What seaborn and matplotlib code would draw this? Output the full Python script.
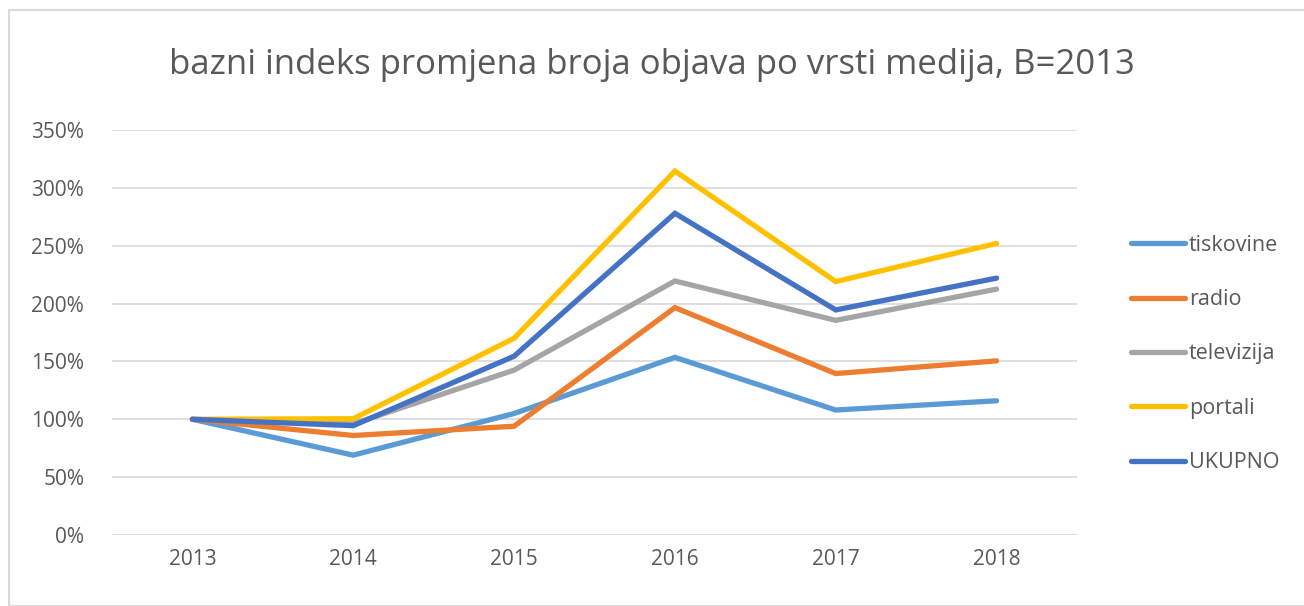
import matplotlib
matplotlib.use("Agg")
import matplotlib.pyplot as plt
import seaborn as sns
import pandas as pd
from matplotlib.patches import Rectangle
from matplotlib.ticker import FuncFormatter

years = ["2013", "2014", "2015", "2016", "2017", "2018"]
tiskovine = [100, 69, 105, 153.5, 108, 116]
radio = [100, 86, 94, 196.5, 139.5, 150.5]
televizija = [100, 96, 142.5, 219.5, 185.5, 212.5]
portali = [100, 100.5, 170, 314.5, 219, 252]
ukupno = [100, 94.5, 154.5, 278, 194.5, 222]

series_names = ["tiskovine", "radio", "televizija", "portali", "UKUPNO"]
series_values = [tiskovine, radio, televizija, portali, ukupno]
colors = ["#5B9BD5", "#ED7D31", "#A5A5A5", "#FFC000", "#4472C4"]
title = "bazni indeks promjena broja objava po vrsti medija, B=2013"

rows = []
for name, vals in zip(series_names, series_values):
    for i, (y, v) in enumerate(zip(years, vals)):
        rows.append({"idx": i, "year": y, "value": v / 100.0, "serija": name})
df = pd.DataFrame(rows)

sns.set_theme(style="white")
plt.rcParams["font.family"] = ["Open Sans", "DejaVu Sans"]

fig = plt.figure(figsize=(13.04, 6.06), dpi=100)
ax = fig.add_axes([112 / 1304, 1 - 535 / 606, (1077 - 112) / 1304, (535 - 130) / 606])

sns.lineplot(data=df, x="idx", y="value", hue="serija", hue_order=series_names,
             palette=colors, linewidth=3.8, ax=ax, legend=True,
             solid_capstyle="round", solid_joinstyle="miter")

ax.set_xlim(-0.5, len(years) - 0.5)
ax.set_ylim(0, 3.5)
ax.set_xticks(range(len(years)))
ax.set_xticklabels(years)
ax.set_yticks([0, 0.5, 1, 1.5, 2, 2.5, 3, 3.5])
ax.yaxis.set_major_formatter(FuncFormatter(lambda v, p: f"{int(round(v * 100))}%"))
ax.grid(axis="y", color="#D9D9D9", linewidth=1.2)
ax.set_axisbelow(True)
for s in ax.spines.values():
    s.set_visible(False)
ax.tick_params(axis="both", length=0, labelsize=15, labelcolor="#595959", pad=10)
ax.tick_params(axis="y", pad=20)
ax.set_xlabel("")
ax.set_ylabel("")

handles, labels = ax.get_legend_handles_labels()
leg = ax.legend(handles, labels, loc="center left", bbox_to_anchor=(1120 / 1304, 1 - 354 / 606),
                bbox_transform=fig.transFigure, frameon=False, fontsize=15.5,
                labelcolor="#595959", handlelength=2.5, handletextpad=0.2,
                labelspacing=1.55, borderpad=0)
for h in leg.get_lines():
    h.set_linewidth(3.8)

fig.text(652 / 1304, 1 - 65 / 606, title, ha="center", va="center",
         fontsize=25, color="#595959")

fig.patches.append(Rectangle((9 / 1304, 0), (1304 - 9) / 1304 + 0.01, 1 - 10 / 606,
                             transform=fig.transFigure, fill=False,
                             edgecolor="#D9D9D9", linewidth=1.5))

fig.savefig("out.png", dpi=100)
